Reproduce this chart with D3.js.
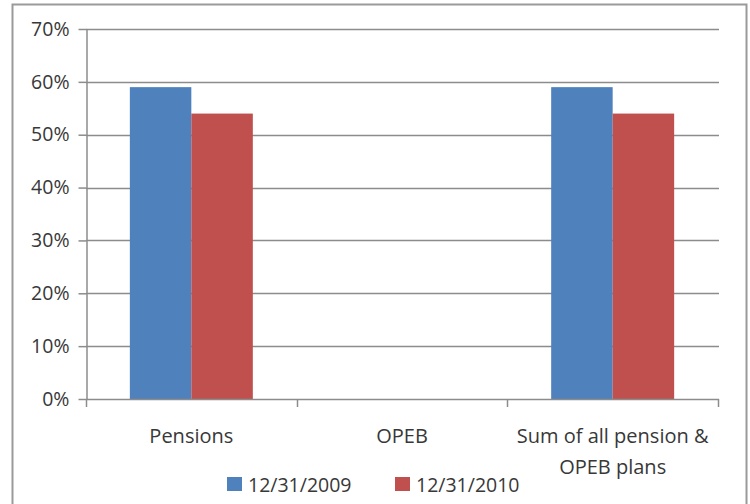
<!DOCTYPE html>
<html>
<head>
<meta charset="utf-8">
<script src="https://cdn.jsdelivr.net/npm/d3@7"></script>
<style>
  body { margin: 0; background: #fff; }
  text { font-family: "Open Sans", sans-serif; fill: #383838; }
</style>
</head>
<body>
<svg id="chart"></svg>
<script>
// chart data
var categories = ["Pensions", "OPEB", "Sum of all pension & OPEB plans"];
var seriesNames = ["12/31/2009", "12/31/2010"];
var values2009 = [0.59, null, 0.59];
var values2010 = [0.54, null, 0.54];
var yTicks = [0, 0.1, 0.2, 0.3, 0.4, 0.5, 0.6, 0.7];
var colors = ["#4f81bd", "#c0504d"];

var width = 750,
    height = 504;

var svg = d3.select("#chart")
    .attr("width", width)
    .attr("height", height);

// outer frame
svg.append("rect")
    .attr("x", 12.5).attr("y", 4.5)
    .attr("width", 734).attr("height", 520)
    .attr("fill", "none")
    .attr("stroke", "#9a9a9a")
    .attr("stroke-width", 2);

var x = d3.scaleBand()
    .domain(categories)
    .range([86, 718]);

var x1 = d3.scaleBand()
    .domain(seriesNames)
    .range([0, x.bandwidth()])
    .paddingOuter(0.713);

var y = d3.scaleLinear()
    .domain([0, 0.7])
    .range([399, 29]);

// gridlines
svg.append("g")
  .selectAll("line")
    .data(yTicks.filter(function(d) { return d > 0; }))
  .enter().append("line")
    .attr("x1", 86).attr("x2", 719)
    .attr("y1", function(d) { return Math.round(y(d)) + 0.5; })
    .attr("y2", function(d) { return Math.round(y(d)) + 0.5; })
    .attr("stroke", "#8c8c8c")
    .attr("stroke-width", 1.5);

// bars
var rows = categories.map(function(c, i) {
  return { cat: c, vals: [values2009[i], values2010[i]] };
});

var groups = svg.append("g")
  .selectAll("g")
    .data(rows)
  .enter().append("g")
    .attr("transform", function(d) { return "translate(" + x(d.cat) + ",0)"; });

groups.selectAll("rect")
    .data(function(d) {
      return d.vals.map(function(v, j) { return { name: seriesNames[j], v: v, j: j }; })
        .filter(function(e) { return e.v != null; });
    })
  .enter().append("rect")
    .attr("x", function(d) { return x1(d.name); })
    .attr("width", x1.bandwidth())
    .attr("y", function(d) { return y(d.v); })
    .attr("height", function(d) { return y(0) - y(d.v); })
    .attr("fill", function(d) { return colors[d.j]; });

// y axis
var yAxis = d3.axisLeft(y)
    .tickValues(yTicks)
    .tickFormat(d3.format(".0%"))
    .tickSizeInner(8)
    .tickSizeOuter(0)
    .tickPadding(9);

var gy = svg.append("g")
    .attr("transform", "translate(86.5,0)")
    .call(yAxis);
gy.select(".domain").attr("stroke", "#8c8c8c").attr("stroke-width", 1.5);
gy.selectAll(".tick line").attr("stroke", "#8c8c8c").attr("stroke-width", 1.5);
gy.selectAll(".tick text")
    .style("font-size", "19.5px")
    .style("font-family", "Open Sans, sans-serif")
    .attr("fill", "#383838");

// x axis line and ticks at category boundaries
svg.append("line")
    .attr("x1", 86).attr("x2", 719)
    .attr("y1", 399.5).attr("y2", 399.5)
    .attr("stroke", "#8c8c8c").attr("stroke-width", 1.5);

var bounds = categories.map(function(c) { return x(c); }).concat([x.range()[1]]);
svg.append("g")
  .selectAll("line")
    .data(bounds)
  .enter().append("line")
    .attr("x1", function(d) { return Math.round(d) + 0.5; })
    .attr("x2", function(d) { return Math.round(d) + 0.5; })
    .attr("y1", 399).attr("y2", 407)
    .attr("stroke", "#8c8c8c").attr("stroke-width", 1.5);

// category labels, wrapped like the original
var labelLines = {
  "Pensions": ["Pensions"],
  "OPEB": ["OPEB"],
  "Sum of all pension & OPEB plans": ["Sum of all pension &", "OPEB plans"]
};

var labels = svg.append("g")
  .selectAll("text")
    .data(categories)
  .enter().append("text")
    .attr("text-anchor", "middle")
    .style("font-size", "20px")
    .attr("x", function(d) { return x(d) + x.bandwidth() / 2; })
    .attr("y", 443);

labels.selectAll("tspan")
    .data(function(d) { return labelLines[d]; })
  .enter().append("tspan")
    .attr("x", function() { return this.parentNode.getAttribute("x"); })
    .attr("dy", function(d, i) { return i === 0 ? 0 : 31; })
    .text(function(d) { return d; });

// legend
var legendX = [227, 395];
var legend = svg.append("g")
  .selectAll("g")
    .data(seriesNames)
  .enter().append("g")
    .attr("transform", function(d, i) { return "translate(" + legendX[i] + ",477)"; });

legend.append("rect")
    .attr("width", 15).attr("height", 14)
    .attr("fill", function(d, i) { return colors[i]; });

legend.append("text")
    .attr("x", 21).attr("y", 14.5)
    .style("font-size", "19.5px")
    .text(function(d) { return d; });
</script>
</body>
</html>
